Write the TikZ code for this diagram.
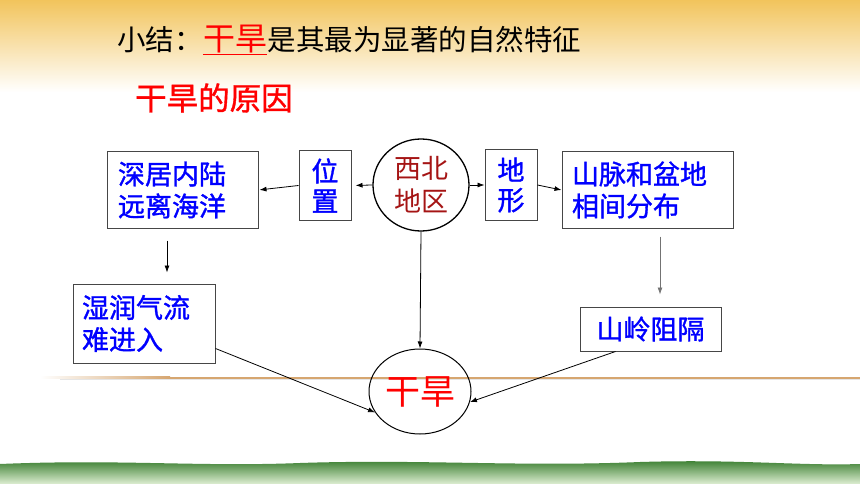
\documentclass[tikz,border=0pt]{standalone}
\usepackage{fontspec}
\setmainfont{Noto Sans CJK SC}
\newfontfamily\heavy[FakeBold=1.2]{Noto Sans CJK SC}
\usetikzlibrary{shapes.geometric,positioning,arrows.meta}
\definecolor{sunny}{RGB}{242,196,92}
\definecolor{pale}{RGB}{252,238,190}
\definecolor{grass}{RGB}{52,122,42}
\definecolor{leaf}{RGB}{120,178,92}
\definecolor{meadow}{RGB}{222,238,210}
\definecolor{rulecol}{RGB}{214,166,112}
\definecolor{regionred}{RGB}{165,20,20}
\definecolor{frame}{RGB}{70,70,70}
\tikzset{every node/.style={inner sep=0pt, font=\fontsize{27}{32}\selectfont},
  reason/.style={draw=frame, line width=1pt, text=blue, align=left, font=\heavy\fontsize{27}{32}\selectfont},
  link/.style={-{Latex[length=7pt,width=5pt]}, line width=0.8pt, black}}

\begin{document}
\begin{tikzpicture}[x=1pt,y=-1pt]
  \useasboundingbox (0,0) rectangle (860,484);
  % background
  \fill[white] (0,0) rectangle (860,484);
  \shade[top color=sunny, middle color=pale, bottom color=white] (0,0) rectangle (860,92);
  \shade[left color=white, right color=rulecol] (40,376.5) rectangle (170,378.5);
  \fill[rulecol] (170,376.5) rectangle (860,378.5);
  \fill[black!10] (60,378.5) rectangle (860,380);
  \shade[top color=grass, middle color=leaf, bottom color=meadow] (0,464) .. controls (120,459) and (200,467) .. (300,463)
    .. controls (420,459) and (520,467) .. (640,462) .. controls (740,459) and (800,466) .. (860,464)
    -- (860,484) -- (0,484) -- cycle;

  % heading
  \node[anchor=base west, font=\fontsize{28.5}{30}\selectfont] (summary) at (117,51) {小结：};
  \node[anchor=base west, text=red, font=\fontsize{32}{34}\selectfont] (keyword) at (summary.base east) {干旱};
  \node[anchor=base west, font=\fontsize{28.5}{30}\selectfont] (feature) at (keyword.base east) {是其最为显著的自然特征};
  \draw[red, line width=1.6pt] ([yshift=-3.5pt]keyword.base west) -- ([yshift=-3.5pt]keyword.base east);
  \node[anchor=base west, text=red, font=\heavy\fontsize{31.5}{34}\selectfont] (causes) at (135,110) {干旱的原因};

  % diagram
  \node[ellipse, draw, line width=1.3pt, minimum width=96pt, minimum height=92pt, text=regionred, align=center,
        font=\fontsize{27}{33}\selectfont] (northwest) at (421,185) {西北\\地区};
  \node[reason, align=center, minimum width=52pt, minimum height=69pt, font=\heavy\fontsize{27}{30}\selectfont] (location) at (325,185.5) {位\\置};
  \node[reason, align=center, minimum width=52pt, minimum height=70pt, font=\heavy\fontsize{27}{30}\selectfont] (terrain) at (511,185) {地\\形};
  \node[reason, text width=129pt, inner xsep=11pt, minimum height=76pt] (inland) at (182.5,190) {深居内陆\\远离海洋};
  \node[reason, text width=151pt, inner xsep=10pt, minimum height=76pt] (range) at (647.5,190) {山脉和盆地\\相间分布};
  \node[reason, text width=124pt, inner xsep=9pt, minimum height=79pt] (moist) at (144,323.5) {湿润气流\\难进入};
  \node[reason, align=center, minimum width=141pt, minimum height=44pt] (ridge) at (650.5,329) {山岭阻隔};
  \node[ellipse, draw, line width=1pt, minimum width=102pt, minimum height=85pt, text=red,
        font=\fontsize{35}{40}\selectfont] (drought) at (420,391.5) {干旱};

  \draw[link, shorten >=4pt] (northwest.west) -- (location.east);
  \draw[link, shorten >=1pt] (location.west) -- (inland.east);
  \draw[link] (northwest.east) -- (terrain.west);
  \draw[link] (terrain.east) -- (range.west);
  \draw[link, shorten <=12pt, shorten >=11pt] ([xshift=-15.5pt]inland.south) -- ([xshift=-15.5pt]inland.south |- moist.north);
  \draw[link, black!55, shorten <=8pt, shorten >=12pt] ([xshift=12.5pt]range.south) -- ([xshift=12.5pt]range.south |- ridge.north);
  \draw[link] (northwest.south) -- (drought.north);
  \draw[link] ([yshift=-25pt]moist.east) -- (drought.205);
  \draw[link] ([xshift=-35pt]ridge.south) -- (drought.-12);
\end{tikzpicture}
\end{document}
